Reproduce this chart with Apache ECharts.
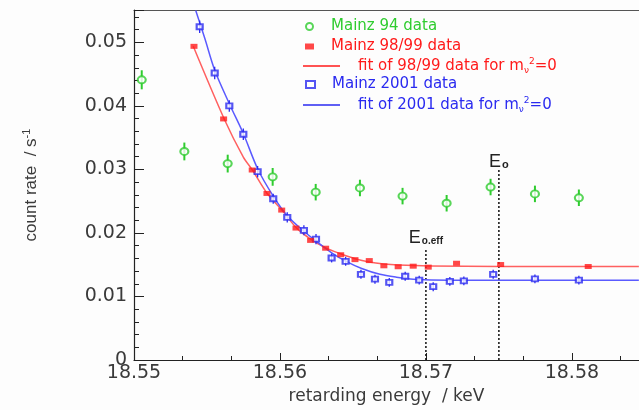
<!DOCTYPE html>
<html>
<head>
<meta charset="utf-8" />
<title>Mainz count rate</title>
<script src="https://cdn.jsdelivr.net/npm/echarts@6/dist/echarts.min.js"></script>
<style>
  html, body { margin: 0; padding: 0; background: #fdfdfd; }
  #chart { width: 639px; height: 410px; }
</style>
</head>
<body>
<div id="chart"></div>
<script>
// ---- data (x in keV, y in counts/s) ----
const mainz94X   = [18.55053, 18.55345, 18.55642, 18.55950, 18.56245, 18.56548, 18.56840, 18.57142, 18.57443, 18.57747, 18.58048];
const mainz94Y   = [0.04411, 0.03283, 0.03092, 0.02883, 0.02642, 0.02708, 0.02580, 0.02468, 0.02723, 0.02615, 0.02554];
const mainz94Err = [0.0015, 0.0014, 0.0014, 0.0014, 0.0013, 0.0013, 0.0013, 0.0013, 0.0013, 0.0013, 0.0013];

const mainz98X = [18.55411, 18.55614, 18.55810, 18.55911, 18.56012, 18.56110, 18.56210, 18.56313, 18.56416,
                  18.56514, 18.56612, 18.56712, 18.56810, 18.56913, 18.57016, 18.57210, 18.57512, 18.58112];
const mainz98Y = [0.04938, 0.03795, 0.02991, 0.02622, 0.02360, 0.02077, 0.01883, 0.01760, 0.01657,
                  0.01580, 0.01565, 0.01483, 0.01468, 0.01477, 0.01462, 0.01523, 0.01503, 0.01472];

const mainz01X = [18.55450, 18.55553, 18.55653, 18.55749, 18.55847, 18.55954, 18.56050, 18.56164, 18.56247, 18.56354, 18.56450,
                  18.56555, 18.56651, 18.56749, 18.56858, 18.56954, 18.57050, 18.57164, 18.57260, 18.57461, 18.57747, 18.58048];
const mainz01Y = [0.05246, 0.04518, 0.04000, 0.03554, 0.02965, 0.02538, 0.02246, 0.02042, 0.01903, 0.01606, 0.01554,
                  0.01349, 0.01272, 0.01222, 0.01318, 0.01257, 0.01154, 0.01237, 0.01246, 0.01349, 0.01277, 0.01257];
const mainz01Err = [0.0010, 0.0010, 0.0009, 0.0009, 0.0009, 0.0008, 0.0008, 0.0008, 0.0008, 0.0007, 0.0007,
                    0.0007, 0.0007, 0.0007, 0.0007, 0.0007, 0.0007, 0.0007, 0.0007, 0.0007, 0.0007, 0.0007];

// fit curves, points
const fit98X = [18.55406, 18.55618, 18.55749, 18.55810, 18.55911, 18.56012, 18.56110, 18.56210, 18.56313,
                18.56416, 18.56514, 18.56612, 18.56712, 18.56810, 18.57027, 18.57507, 18.58459];
const fit98Y = [0.04938, 0.03795, 0.03195, 0.02995, 0.02626, 0.02365, 0.02088, 0.01903, 0.01765,
                0.01672, 0.01595, 0.01542, 0.01511, 0.01495, 0.01480, 0.01472, 0.01472];

const fit01X = [18.55423, 18.55486, 18.55555, 18.55658, 18.55749, 18.55847, 18.55954, 18.56050, 18.56164,
                18.56247, 18.56354, 18.56457, 18.56560, 18.56685, 18.56799, 18.56913, 18.57164, 18.58459];
const fit01Y = [0.05503, 0.05057, 0.04549, 0.04011, 0.03565, 0.03011, 0.02580, 0.02272, 0.02026,
                0.01872, 0.01688, 0.01549, 0.01441, 0.01349, 0.01303, 0.01272, 0.01257, 0.01257];

// endpoint markers: E0 and E0,eff
const e0X = 18.575, e0Top = 0.0301;
const e0effX = 18.570, e0effTop = 0.0174;

const xTicks = { min: 18.55, max: 18.5846, step: 0.01 };
const yTicks = { min: 0, max: 0.0551, step: 0.01 };

const GREEN = "#2fcc2f", RED = "#ff1a1a", RED_FIT = "#ff6060", BLUE = "#2a2af0", BLUE_FIT = "#5a5aff";
const TICK_FONT = "DejaVu Sans";
const INK = "#3a3a3a";

const zip = (xs, ys) => xs.map((x, i) => [x, ys[i]]);
const errData = (xs, ys, es) => xs.map((x, i) => [x, ys[i] - es[i], ys[i] + es[i]]);

function errorBars(color, width) {
  return function (params, api) {
    const lo = api.coord([api.value(0), api.value(1)]);
    const hi = api.coord([api.value(0), api.value(2)]);
    return {
      type: "line",
      shape: { x1: lo[0], y1: lo[1], x2: hi[0], y2: hi[1] },
      style: { stroke: color, lineWidth: width },
    };
  };
}

const fitRich = (color) => ({
  a: { color, fontFamily: TICK_FONT, fontSize: 15 },
  s: { color, fontFamily: TICK_FONT, fontSize: 9, padding: [9, 0, 0, 0] },
  p: { color, fontFamily: TICK_FONT, fontSize: 9, padding: [0, 0, 9, 0] },
});

function legendAt(name, top, left, icon, w, h, color, pad, rich) {
  return {
    data: [{ name, icon }],
    orient: "vertical",
    left, top, padding: 0,
    itemWidth: w, itemHeight: h,
    selectedMode: false,
    textStyle: { color, fontFamily: TICK_FONT, fontSize: 15, padding: [0, 0, 0, pad], rich },
    formatter: rich
      ? (n) => "{a|" + n.replace(/ m.*$/, " m") + "}{s|\u03bd}{p|2}{a|=0}"
      : undefined,
  };
}

const NAME_FIT98 = "fit of 98/99 data for m nu2=0";
const NAME_FIT01 = "fit of 2001 data for m nu2=0";

const chart = echarts.init(document.getElementById("chart"), null, { renderer: "canvas" });

chart.setOption({
  animation: false,
  backgroundColor: "#fdfdfd",
  grid: { left: 134, right: 0, top: 10, bottom: 42 },
  legend: [
    legendAt("Mainz 94 data", 19, 305, "emptyCircle", 9, 7, GREEN, 12),
    legendAt("Mainz 98/99 data", 39, 305, "rect", 9, 6, RED, 12),
    legendAt(NAME_FIT98, 57, 303, "rect", 37, 1.5, RED, 13, fitRich(RED)),
    legendAt("Mainz 2001 data", 77, 305, "emptyRect", 9, 7, BLUE, 12),
    legendAt(NAME_FIT01, 96, 303, "rect", 37, 1.5, BLUE, 13, fitRich(BLUE)),
  ],
  xAxis: [
    {
      type: "value",
      min: xTicks.min, max: xTicks.max, interval: xTicks.step,
      name: "retarding energy  / keV",
      nameLocation: "middle", nameGap: 28,
      nameTextStyle: { fontFamily: TICK_FONT, fontSize: 17, color: INK },
      axisLine: { lineStyle: { color: "#222", width: 1.2 } },
      axisTick: { inside: true, length: 7, lineStyle: { color: "#222" } },
      minorTick: { show: true, splitNumber: 3, length: 4, lineStyle: { color: "#222" } },
      splitLine: { show: false },
      axisLabel: {
        margin: 4, showMaxLabel: false,
        fontFamily: TICK_FONT, fontSize: 19, color: INK,
        formatter: (v) => v.toFixed(2),
      },
    },
    {
      type: "value", position: "top",
      min: xTicks.min, max: xTicks.max,
      axisLine: { show: true, lineStyle: { color: "#555", width: 1.2 } },
      axisTick: { show: false }, axisLabel: { show: false }, splitLine: { show: false },
    },
  ],
  yAxis: {
    type: "value",
    min: yTicks.min, max: yTicks.max, interval: yTicks.step,
    name: "{a|count rate  / s}{b|-1}",
    nameLocation: "middle", nameGap: 92,
    nameTextStyle: {
      rich: {
        a: { fontFamily: "Liberation Sans", fontSize: 17, color: INK },
        b: { fontFamily: "Liberation Sans", fontSize: 11, color: INK, padding: [0, 0, 10, 0] },
      },
    },
    axisLine: { lineStyle: { color: "#222", width: 1.2 } },
    axisTick: { inside: true, length: 10, lineStyle: { color: "#222" } },
    minorTick: { show: true, splitNumber: 5, length: 5, lineStyle: { color: "#222" } },
    splitLine: { show: false },
    axisLabel: {
      margin: 7, showMaxLabel: false,
      fontFamily: TICK_FONT, fontSize: 19, color: INK,
      formatter: (v) => (v === 0 ? "0" : v.toFixed(2)),
    },
  },
  series: [
    {
      name: "E0", type: "line", symbol: "circle", symbolSize: 0, silent: true,
      data: [[e0X, 0], { value: [e0X, e0Top], label: {
        show: true, position: "top", distance: -2,
        formatter: "{e|E}{s|o}",
        rich: {
          e: { fontFamily: "Liberation Sans", fontSize: 18, color: "#222" },
          s: { fontFamily: "Liberation Sans", fontSize: 11, fontWeight: "bold", color: "#222", padding: [6, 0, 0, 1] },
        },
      } }],
      lineStyle: { color: "#111", width: 1.5, type: [2, 2] },
      z: 1,
    },
    {
      name: "E0eff", type: "line", symbol: "circle", symbolSize: 0, silent: true,
      data: [[e0effX, 0], { value: [e0effX, e0effTop], label: {
        show: true, position: "top", distance: 2,
        formatter: "{e|E}{s|o.eff}",
        rich: {
          e: { fontFamily: "Liberation Sans", fontSize: 18, color: "#222" },
          s: { fontFamily: "Liberation Sans", fontSize: 10, fontWeight: "bold", color: "#222", padding: [6, 0, 0, 1] },
        },
      } }],
      lineStyle: { color: "#111", width: 1.5, type: [2, 2] },
      z: 1,
    },
    {
      name: NAME_FIT98, type: "line", smooth: 0.3, showSymbol: false, silent: true,
      data: zip(fit98X, fit98Y),
      lineStyle: { color: RED_FIT, width: 1.5 }, itemStyle: { color: RED },
      z: 2,
    },
    {
      name: NAME_FIT01, type: "line", smooth: 0.3, showSymbol: false, silent: true,
      data: zip(fit01X, fit01Y),
      lineStyle: { color: BLUE_FIT, width: 1.5 }, itemStyle: { color: BLUE },
      z: 2,
    },
    {
      name: "err94", type: "custom", renderItem: errorBars(GREEN, 2),
      data: errData(mainz94X, mainz94Y, mainz94Err), z: 3,
    },
    {
      name: "Mainz 94 data", type: "scatter", symbol: "emptyCircle", symbolSize: [8, 7],
      data: zip(mainz94X, mainz94Y),
      itemStyle: { color: GREEN, borderColor: GREEN, borderWidth: 1.5 }, z: 4,
    },
    {
      name: "err01", type: "custom", renderItem: errorBars(BLUE, 1.3),
      data: errData(mainz01X, mainz01Y, mainz01Err), z: 3,
    },
    {
      name: "Mainz 2001 data", type: "scatter", symbol: "emptyRect", symbolSize: [6, 5],
      data: zip(mainz01X, mainz01Y),
      itemStyle: { color: BLUE, borderColor: BLUE, borderWidth: 1.5 }, z: 4,
    },
    {
      name: "Mainz 98/99 data", type: "scatter", symbol: "rect", symbolSize: [7, 5],
      data: zip(mainz98X, mainz98Y),
      itemStyle: { color: RED }, z: 5,
    },
  ],
});
</script>
</body>
</html>
